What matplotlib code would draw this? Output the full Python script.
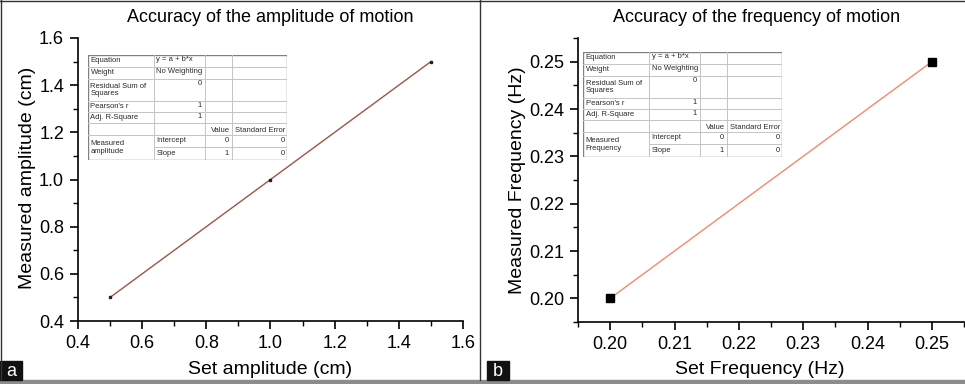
import matplotlib.pyplot as plt
import matplotlib.patches as patches
from matplotlib.ticker import MultipleLocator

plt.rcParams['font.family'] = ['Liberation Sans', 'DejaVu Sans']

# data
set_amp = [0.5, 1.0, 1.5]
meas_amp = [0.5, 1.0, 1.5]
set_freq = [0.20, 0.25]
meas_freq = [0.20, 0.25]

fit_rows = ["Equation", "Weight", "Residual Sum of\nSquares", "Pearson's r", "Adj. R-Square"]
fit_vals = ["y = a + b*x", "No Weighting", "0", "1", "1"]
param_names = ["Intercept", "Slope"]
param_value = ["0", "1"]
param_err = ["0", "0"]

W, H = 965, 384
fig = plt.figure(figsize=(W / 100, H / 100), dpi=100)


def px_axes(x0, y0, w, h):
    # axes placed in pixel coords (y from top)
    return fig.add_axes([x0 / W, 1 - (y0 + h) / H, w / W, h / H])


def draw_table(x0, y0, group_name):
    cw = [66, 51, 27, 55]
    rh = [11.7, 12.3, 21.7, 11, 11.7, 11.7, 12.3, 12.3]
    tw, th = sum(cw), sum(rh)
    ax = px_axes(x0, y0, tw, th)
    ax.set_xlim(0, tw)
    ax.set_ylim(th, 0)
    ax.axis('off')
    cx = [0]
    for c in cw:
        cx.append(cx[-1] + c)
    ry = [0]
    for r in rh:
        ry.append(ry[-1] + r)
    fs = 5.5
    tc = '#2a2a2a'
    grid = '#c4c4c4'
    for i, y in enumerate(ry[1:-1], start=1):
        if i == 7:
            ax.plot([cx[1], tw], [y, y], color=grid, lw=0.7)
        else:
            ax.plot([0, tw], [y, y], color=grid, lw=0.7)
    for x in cx[1:-1]:
        ax.plot([x, x], [0, th], color=grid, lw=0.7)
    ax.add_patch(patches.Rectangle((0, 0), tw, th, fill=False, ec='#808080', lw=1.0))
    for i, (lab, val) in enumerate(zip(fit_rows, fit_vals)):
        yc = (ry[i] + ry[i + 1]) / 2
        ax.text(cx[0] + 2.5, yc, lab, fontsize=fs, va='center', ha='left', color=tc,
                linespacing=1.05)
        if i < 2:
            ax.text(cx[1] + 2.5, ry[i] + 5, val, fontsize=fs, va='center', ha='left', color=tc)
        else:
            ax.text(cx[2] - 3, ry[i] + 5, val, fontsize=fs, va='center', ha='right', color=tc)
    yc = (ry[5] + ry[6]) / 2 + 1
    ax.text(cx[3] - 2, yc, "Value", fontsize=fs, va='center', ha='right', color=tc)
    ax.text(cx[4] - 2, yc, "Standard Error", fontsize=fs, va='center', ha='right', color=tc)
    ax.text(cx[0] + 2.5, (ry[6] + ry[8]) / 2, group_name, fontsize=fs, va='center', ha='left',
            color=tc, linespacing=1.35)
    for j in range(2):
        yc = (ry[6 + j] + ry[7 + j]) / 2 - 0.5
        ax.text(cx[1] + 2.5, yc, param_names[j], fontsize=fs, va='center', ha='left', color=tc)
        ax.text(cx[3] - 3, yc, param_value[j], fontsize=fs, va='center', ha='right', color=tc)
        ax.text(cx[4] - 2, yc, param_err[j], fontsize=fs, va='center', ha='right', color=tc)


def style_axes(ax):
    for s in ['top', 'right']:
        ax.spines[s].set_visible(False)
    for s in ['left', 'bottom']:
        ax.spines[s].set_linewidth(1.2)
    ax.tick_params(which='major', direction='out', length=6, width=1.2, labelsize=13, pad=4)
    ax.tick_params(which='minor', direction='out', length=3.5, width=1.0)


# panel a
ax1 = px_axes(78, 38, 385, 283)
ax1.plot(set_amp, meas_amp, color='#a0524a', lw=1.0, zorder=2)
ax1.plot(set_amp, meas_amp, 's', color='#222222', ms=2.0, zorder=3)
ax1.set_xlim(0.4, 1.6)
ax1.set_ylim(0.4, 1.6)
ax1.xaxis.set_major_locator(MultipleLocator(0.2))
ax1.xaxis.set_minor_locator(MultipleLocator(0.1))
ax1.yaxis.set_major_locator(MultipleLocator(0.2))
ax1.yaxis.set_minor_locator(MultipleLocator(0.1))
ax1.xaxis.set_major_formatter(lambda v, p: f"{v:.1f}")
ax1.yaxis.set_major_formatter(lambda v, p: f"{v:.1f}")
style_axes(ax1)

# panel b
ax2 = px_axes(578, 38, 386, 284)
ax2.plot(set_freq, meas_freq, color='#f4896b', lw=1.0, zorder=2)
ax2.plot(set_freq, meas_freq, 's', color='black', ms=5.5, zorder=3)
ax2.set_xlim(0.195, 0.255)
ax2.set_ylim(0.195, 0.255)
ax2.xaxis.set_major_locator(MultipleLocator(0.01))
ax2.xaxis.set_minor_locator(MultipleLocator(0.005))
ax2.yaxis.set_major_locator(MultipleLocator(0.01))
ax2.yaxis.set_minor_locator(MultipleLocator(0.005))
ax2.xaxis.set_major_formatter(lambda v, p: f"{v:.2f}")
ax2.yaxis.set_major_formatter(lambda v, p: f"{v:.2f}")
style_axes(ax2)

draw_table(88, 55, "Measured\namplitude")
draw_table(583, 52, "Measured\nFrequency")

# titles and labels
fig.text(270 / W, 1 - 18 / H, "Accuracy of the amplitude of motion", ha='center', va='center', fontsize=13)
fig.text(757 / W, 1 - 18 / H, "Accuracy of the frequency of motion", ha='center', va='center', fontsize=13)
fig.text(28 / W, 1 - 178 / H, "Measured amplitude (cm)", rotation=90, ha='center', va='center', fontsize=14)
fig.text(517 / W, 1 - 180 / H, "Measured Frequency (Hz)", rotation=90, ha='center', va='center', fontsize=14)
fig.text(270 / W, 1 - 369 / H, "Set amplitude (cm)", ha='center', va='center', fontsize=14)
fig.text(760 / W, 1 - 369 / H, "Set Frequency (Hz)", ha='center', va='center', fontsize=14)

# frame lines, bottom bar, panel letters
frame = fig.add_axes([0, 0, 1, 1], zorder=-1)
frame.set_xlim(0, W)
frame.set_ylim(H, 0)
frame.axis('off')
frame.plot([0, W], [0.7, 0.7], color='#333333', lw=1.0)
frame.plot([0.7, 0.7], [0, 380], color='#333333', lw=1.0)
frame.plot([480, 480], [0, 380], color='#333333', lw=1.0)
frame.add_patch(patches.Rectangle((0, 380), W, 4, color='#8c8c8c'))
frame.add_patch(patches.Rectangle((0, 361), 22, 19, color='#111111'))
frame.add_patch(patches.Rectangle((487, 361), 22, 19, color='#111111'))
frame.text(11, 371, "a", color='white', ha='center', va='center', fontsize=13)
frame.text(498, 371, "b", color='white', ha='center', va='center', fontsize=13)

fig.savefig("out.png", dpi=100)
